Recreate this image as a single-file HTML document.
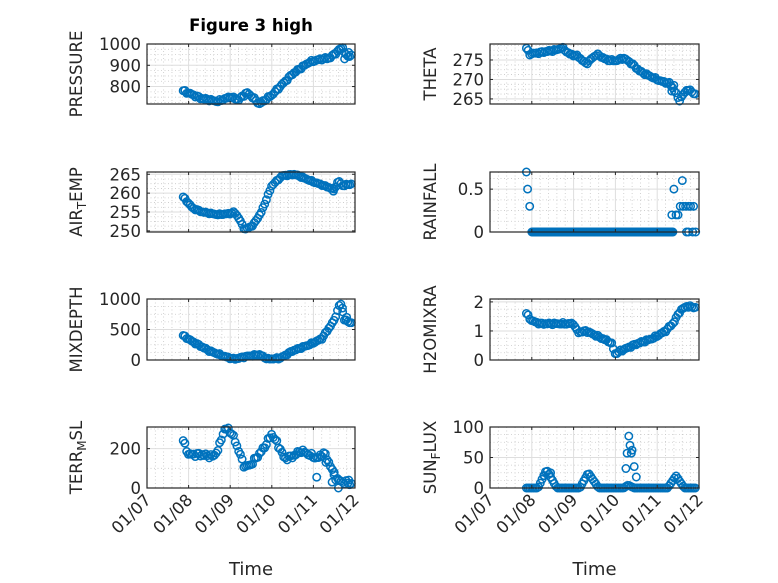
<!DOCTYPE html>
<html><head><meta charset="utf-8"><style>
body{margin:0;background:#fff}
svg{display:block}
text{font-family:"DejaVu Sans","Liberation Sans",sans-serif;fill:#262626}
</style></head><body>
<svg id="s" width="778" height="583" xmlns="http://www.w3.org/2000/svg"></svg>
<script>
const S=document.getElementById('s');let h='';
const rows=[[44,104],[172,232],[299,360],[427,488]];
const cols=[[147,355],[490,699]];
function lin(pts,t){if(t<=pts[0][0])return pts[0][1];for(let i=1;i<pts.length;i++){if(t<=pts[i][0]){const a=pts[i-1],b=pts[i];return a[1]+(b[1]-a[1])*(t-a[0])/(b[0]-a[0]);}}return pts[pts.length-1][1];}
function axes(c,r,ymin,ymax,ticks,label,sub,xlabels,minorN){
 const [x0,x1]=cols[c],[y0,y1]=rows[r];const W=x1-x0,H=y1-y0;
 const X=d=>x0+d*W/5, Y=v=>y1-(v-ymin)/(ymax-ymin)*H;
 for(let d=0;d<5;d++)for(let k=1;k<5;k++){const x=X(d+k/5);h+=`<line x1="${x}" y1="${y0}" x2="${x}" y2="${y1}" stroke="#c8c8c8" stroke-width="0.8" stroke-dasharray="1,2.5"/>`;}
 const st=ticks[1]-ticks[0];
 for(let v=ticks[0]-st;v<=ticks[ticks.length-1]+st;v+=st/minorN){const y=Y(v);if(y>y0&&y<y1&&!ticks.some(t=>Math.abs(t-v)<1e-9))h+=`<line x1="${x0}" y1="${y}" x2="${x1}" y2="${y}" stroke="#c8c8c8" stroke-width="0.8" stroke-dasharray="1,2.5"/>`;}
 for(let d=1;d<5;d++){const x=X(d);h+=`<line x1="${x}" y1="${y0}" x2="${x}" y2="${y1}" stroke="#dedede"/>`;}
 ticks.forEach(v=>{const y=Y(v);if(y>y0+1&&y<y1-1)h+=`<line x1="${x0}" y1="${y}" x2="${x1}" y2="${y}" stroke="#dedede"/>`;});
 return {X,Y,fin(){
  h+=`<rect x="${x0}" y="${y0}" width="${W}" height="${H}" fill="none" stroke="#262626" stroke-width="1.2"/>`;
  for(let d=0;d<=5;d++){const x=X(d);h+=`<line x1="${x}" y1="${y1}" x2="${x}" y2="${y1-3}" stroke="#262626"/><line x1="${x}" y1="${y0}" x2="${x}" y2="${y0+3}" stroke="#262626"/>`;}
  ticks.forEach(v=>{const y=Y(v);h+=`<line x1="${x0}" y1="${y}" x2="${x0+3}" y2="${y}" stroke="#262626"/><line x1="${x1}" y1="${y}" x2="${x1-3}" y2="${y}" stroke="#262626"/><text x="${x0-6}" y="${y+6}" font-size="16.5" text-anchor="end">${v}</text>`;});
  const ly=(y0+y1)/2, lx=x0-(c==0?70:59);
  h+=`<text transform="translate(${lx+5},${ly}) rotate(-90)" font-size="16.5" text-anchor="middle">${label}</text>`;
  if(xlabels){for(let d=0;d<=5;d++){const x=X(d);h+=`<text transform="translate(${x+5},${y1+13}) rotate(-45)" font-size="16.5" text-anchor="end">01/${String(7+d).padStart(2,'0')}</text>`;}
   h+=`<text x="${(x0+x1)/2}" y="575" font-size="18" text-anchor="middle">Time</text>`;}
 }};}
function plot(a,pts,noise,ymin,ymax,extra){
 for(let t=0.87;t<=4.95;t+=1/24){let v=lin(pts,t)+(noise?(Math.sin(t*37)+Math.sin(t*91))*noise:0);pt(a,t,v,ymin,ymax);}
 (extra||[]).forEach(p=>pt(a,p[0],p[1],ymin,ymax));}
function pt(a,t,v,ymin,ymax){v=Math.max(ymin,Math.min(ymax,v));h+=`<circle cx="${a.X(t).toFixed(1)}" cy="${a.Y(v).toFixed(1)}" r="3.7" fill="none" stroke="#0072BD" stroke-width="1.5"/>`;}
let a;
a=axes(0,0,718,1000,[800,900,1000],'PRESSURE',0,false,4);
plot(a,[[0.87,780],[1.3,745],[1.7,730],[2.0,752],[2.2,738],[2.4,772],[2.55,748],[2.7,718],[3.0,760],[3.5,860],[3.9,915],[4.2,930],[4.4,935],[4.55,960],[4.7,985],[4.8,940],[4.95,950]],3,718,1000,[[4.62,975],[4.75,930],[4.85,960]]);a.fin();
h+=`<text x="251" y="31" font-size="16.5" font-weight="bold" text-anchor="middle" style="fill:#000">Figure 3 high</text>`;
a=axes(1,0,263.7,279.1,[265,270,275],'THETA',0,false,4);
plot(a,[[0.87,278],[0.95,276.5],[1.6,277.6],[1.72,278.2],[1.9,276.5],[2.1,276],[2.3,274],[2.55,276.5],[2.8,275],[3.0,274.8],[3.2,275.5],[3.4,274],[3.6,272],[3.9,270.5],[4.1,269.5],[4.3,269],[4.45,266.5],[4.52,264.5],[4.6,265.8],[4.72,267.5],[4.95,266]],0.15,263.7,279.1,[[4.35,267],[4.4,268.5]]);a.fin();
a=axes(0,1,249.7,265.6,[250,255,260,265],'AIR<tspan font-size="12" dy="4">T</tspan><tspan dy="-4">EMP</tspan>',0,false,4);
plot(a,[[0.87,259],[1.1,256],[1.33,255],[1.7,254.3],[2.0,254.6],[2.1,255],[2.2,253.5],[2.35,250.3],[2.55,251.5],[2.75,255],[3.0,262],[3.25,264.6],[3.55,265],[4.0,263],[4.5,261],[4.6,263.3],[4.7,262],[4.95,262.5]],0.1,249.7,265.6,[[4.48,260.5]]);a.fin();
a=axes(1,1,0,0.7,[0,0.5],'RAINFALL',0,false,4);
[[0.87,0.7],[0.9,0.5],[0.95,0.3]].forEach(p=>pt(a,p[0],p[1],0,0.7));
for(let t=1.0;t<=4.38;t+=1/48)pt(a,t,0,0,0.7);
[[4.35,0.2],[4.4,0.5],[4.45,0.2],[4.5,0.2],[4.55,0.3],[4.6,0.6],[4.62,0.3],[4.68,0.3],[4.75,0.3],[4.8,0.3],[4.7,0],[4.75,0],[4.87,0.3],[4.85,0],[4.92,0]].forEach(p=>pt(a,p[0],p[1],0,0.7));a.fin();
a=axes(0,2,0,1000,[0,500,1000],'MIXDEPTH',0,false,4);
plot(a,[[0.87,400],[1.1,300],[1.5,150],[1.9,50],[2.1,15],[2.4,60],[2.7,90],[2.9,15],[3.2,30],[3.5,150],[3.9,250],[4.2,350],[4.5,650],[4.65,950],[4.75,650],[4.95,600]],8,0,1000,[[4.7,850],[4.8,700]]);a.fin();
a=axes(1,2,0,2.1,[0,1,2],'H2OMIXRA',0,false,4);
plot(a,[[0.87,1.6],[1.0,1.35],[1.2,1.25],[2.0,1.25],[2.1,0.95],[2.3,1.0],[2.6,0.8],[2.9,0.6],[3.0,0.2],[3.1,0.3],[3.5,0.55],[3.9,0.75],[4.2,1.0],[4.4,1.3],[4.55,1.7],[4.7,1.85],[4.95,1.8]],0.02,0,2.1);a.fin();
a=axes(0,3,0,310,[0,200],'TERR<tspan font-size="12" dy="4">M</tspan><tspan dy="-4">SL</tspan>',0,true,2);
plot(a,[[0.87,240],[1.0,170],[1.3,170],[1.6,160],[1.72,200],[1.85,295],[1.97,300],[2.1,250],[2.35,105],[2.5,120],[2.8,200],[3.0,275],[3.2,200],[3.3,150],[3.5,160],[3.7,190],[3.9,170],[4.1,150],[4.25,180],[4.4,120],[4.5,60],[4.6,40],[4.7,30],[4.95,20]],6,0,310,[[4.08,55],[4.3,130],[4.45,30],[4.6,0],[4.85,40],[4.5,80]]);a.fin();
a=axes(1,3,0,100,[0,50,100],'SUN<tspan font-size="12" dy="4">F</tspan><tspan dy="-4">LUX</tspan>',0,true,4);
plot(a,[[0.87,0],[1.15,0],[1.35,30],[1.6,0],[2.15,0],[2.35,25],[2.6,0],[3.2,0],[3.3,5],[3.45,0],[4.25,0],[4.45,20],[4.65,0],[4.95,0]],0,0,100,[[3.25,32],[3.28,57],[3.32,85],[3.35,70],[3.4,62],[3.38,57],[3.45,35],[3.5,18],[1.3,20],[1.45,25]]);a.fin();
S.innerHTML=h;
</script>
</body></html>
